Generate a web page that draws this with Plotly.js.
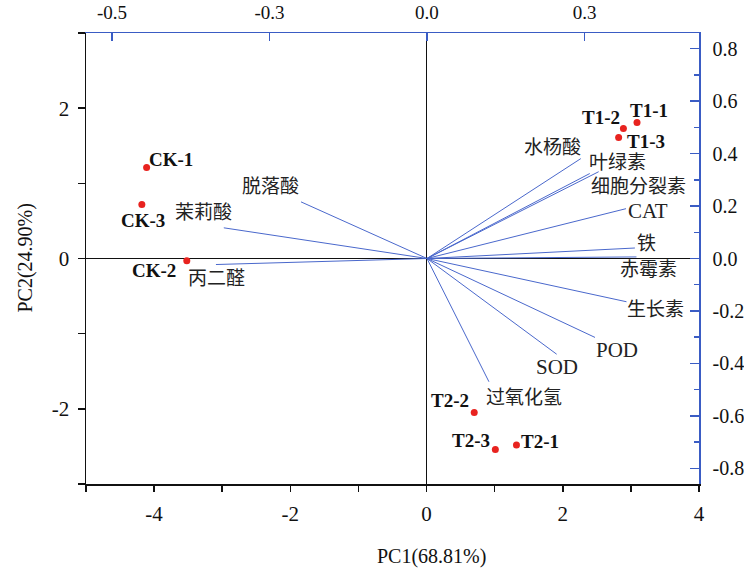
<!DOCTYPE html>
<html>
<head>
<meta charset="utf-8">
<script src="https://cdn.plot.ly/plotly-3.0.1.min.js"></script>
<style>html,body{margin:0;padding:0;background:#fff;}#chart{width:744px;height:569px;}</style>
</head>
<body>
<div id="chart"></div>
<script>
// Sample scores (PC1, PC2)
const sampleNames = ["CK-1", "CK-3", "CK-2", "T1-1", "T1-2", "T1-3", "T2-2", "T2-3", "T2-1"];
const scorePC1 = [-4.11, -4.18, -3.52, 3.09, 2.89, 2.82, 0.70, 1.01, 1.32];
const scorePC2 = [1.21, 0.72, -0.03, 1.81, 1.73, 1.61, -2.05, -2.54, -2.48];

// Variable loadings (PC1, PC2)
const varNames = ["脱落酸", "茉莉酸", "丙二醛", "水杨酸", "叶绿素", "细胞分裂素", "CAT", "铁", "赤霉素", "生长素", "POD", "SOD", "过氧化氢"];
const loadPC1 = [-0.240, -0.387, -0.402, 0.293, 0.327, 0.310, 0.379, 0.396, 0.399, 0.380, 0.320, 0.247, 0.118];
const loadPC2 = [0.216, 0.117, -0.023, 0.381, 0.331, 0.324, 0.190, 0.040, 0.006, -0.165, -0.301, -0.365, -0.470];

// Axis tick labels
const bottomTickVals = [-5, -4, -3, -2, -1, 0, 1, 2, 3, 4];
const bottomTickText = ["", "-4", "", "-2", "", "0", "", "2", "", "4"];
const leftTickVals = [-3, -2, -1, 0, 1, 2, 3];
const leftTickText = ["", "-2", "", "0", "", "2", ""];
const topTickVals = [-0.6, -0.3, 0, 0.3];
const topTickText = ["-0.5", "-0.3", "0.0", "0.3"];
const rightTickVals = [-0.8, -0.6, -0.4, -0.2, 0, 0.2, 0.4, 0.6, 0.8];
const rightTickText = ["-0.8", "-0.6", "-0.4", "-0.2", "0.0", "0.2", "0.4", "0.6", "0.8"];
const rightMinorVals = [-0.7, -0.5, -0.3, -0.1, 0.1, 0.3, 0.5, 0.7];

// Label offsets (pixels) - styling only
const sampleShift = [[24, 8], [1, -16], [-33, -10], [12, 12], [-22, 11], [27, -4], [-24, 12], [-24, 9], [24, 3]];
const varShift = [[-30, 15], [-20, 15], [1, -14], [-28, 11], [19, 9], [49, -13], [22, -2], [12, 5], [12, -13], [29, -8], [22, -13], [0, -13], [35, -16]];

const BLUE = "#3a5cc4";
const VEC = "#4a68cc";
const FONT = "Liberation Serif, Noto Sans CJK SC, serif";

const vx = [], vy = [];
for (let i = 0; i < varNames.length; i++) {
  vx.push(0, loadPC1[i], null);
  vy.push(0, loadPC2[i], null);
}

const traces = [
  {
    x: vx, y: vy, xaxis: "x2", yaxis: "y2", type: "scatter", mode: "lines",
    line: {color: VEC, width: 1}, hoverinfo: "skip", showlegend: false
  },
  {
    x: scorePC1, y: scorePC2, type: "scatter", mode: "markers",
    marker: {color: "#e8231f", size: 7}, text: sampleNames, showlegend: false
  }
];

const annotations = [];
sampleNames.forEach((n, i) => {
  annotations.push({
    x: scorePC1[i], y: scorePC2[i], xref: "x", yref: "y", text: "<b>" + n + "</b>",
    xanchor: "center", yanchor: "middle",
    showarrow: false, xshift: sampleShift[i][0], yshift: sampleShift[i][1],
    font: {family: FONT, size: 19, color: "#111"}
  });
});
varNames.forEach((n, i) => {
  const latin = /^[A-Z]+$/.test(n);
  annotations.push({
    x: loadPC1[i], y: loadPC2[i], xref: "x2", yref: "y2", text: n,
    xanchor: "center", yanchor: "middle",
    showarrow: false, xshift: varShift[i][0], yshift: varShift[i][1],
    font: {family: FONT, size: latin ? 21 : 19, color: "#222"}
  });
});
annotations.push({
  x: 0.564, y: -0.16, xref: "paper", yref: "paper", text: "PC1(68.81%)",
  xanchor: "center", yanchor: "middle",
  showarrow: false, font: {family: FONT, size: 20, color: "#111"}
});
annotations.push({
  x: -0.0995, y: 0.5, xref: "paper", yref: "paper", text: "PC2(24.90%)", textangle: -90,
  xanchor: "center", yanchor: "middle",
  showarrow: false, font: {family: FONT, size: 20, color: "#111"}
});

const layout = {
  width: 744, height: 569,
  margin: {l: 86, r: 45, t: 33, b: 85},
  paper_bgcolor: "#fff", plot_bgcolor: "#fff",
  showlegend: false,
  font: {family: FONT, color: "#111"},
  xaxis: {
    range: [-5, 4], tickmode: "array", tickvals: bottomTickVals, ticktext: bottomTickText,
    ticks: "outside", ticklen: 6, tickwidth: 1.5, tickcolor: "#111",
    showline: true, linecolor: "#111", linewidth: 1.5, mirror: false,
    showgrid: false, zeroline: true, zerolinecolor: "#111", zerolinewidth: 1.5,
    tickfont: {family: FONT, size: 21, color: "#111"}, ticklabelstandoff: 4
  },
  yaxis: {
    range: [-3, 3], tickmode: "array", tickvals: leftTickVals, ticktext: leftTickText,
    ticks: "outside", ticklen: 7, tickwidth: 1.5, tickcolor: "#111",
    showline: true, linecolor: "#111", linewidth: 1.5,
    showgrid: false, zeroline: true, zerolinecolor: "#111", zerolinewidth: 1.5,
    tickfont: {family: FONT, size: 21, color: "#111"}, ticklabelstandoff: 4
  },
  xaxis2: {
    overlaying: "x", side: "top", range: [-0.6495, 0.5181],
    tickmode: "array", tickvals: topTickVals, ticktext: topTickText,
    ticks: "inside", ticklen: 8, tickwidth: 1.5, tickcolor: BLUE,
    showline: true, linecolor: BLUE, linewidth: 1.5,
    showgrid: false, zeroline: false,
    tickfont: {family: FONT, size: 19, color: "#111"}, ticklabelstandoff: 5
  },
  yaxis2: {
    overlaying: "y", side: "right", range: [-0.86, 0.86],
    tickmode: "array", tickvals: rightTickVals, ticktext: rightTickText,
    ticks: "inside", ticklen: 9, tickwidth: 1.5, tickcolor: BLUE,
    minor: {tickmode: "array", tickvals: rightMinorVals, ticks: "inside", ticklen: 5, tickwidth: 1.5, tickcolor: BLUE, showgrid: false},
    showline: true, linecolor: BLUE, linewidth: 1.5,
    showgrid: false, zeroline: false,
    tickfont: {family: FONT, size: 20, color: "#111"}, ticklabelstandoff: 8
  },
  annotations: annotations
};

Plotly.newPlot("chart", traces, layout, {displayModeBar: false, staticPlot: true});
</script>
</body>
</html>
